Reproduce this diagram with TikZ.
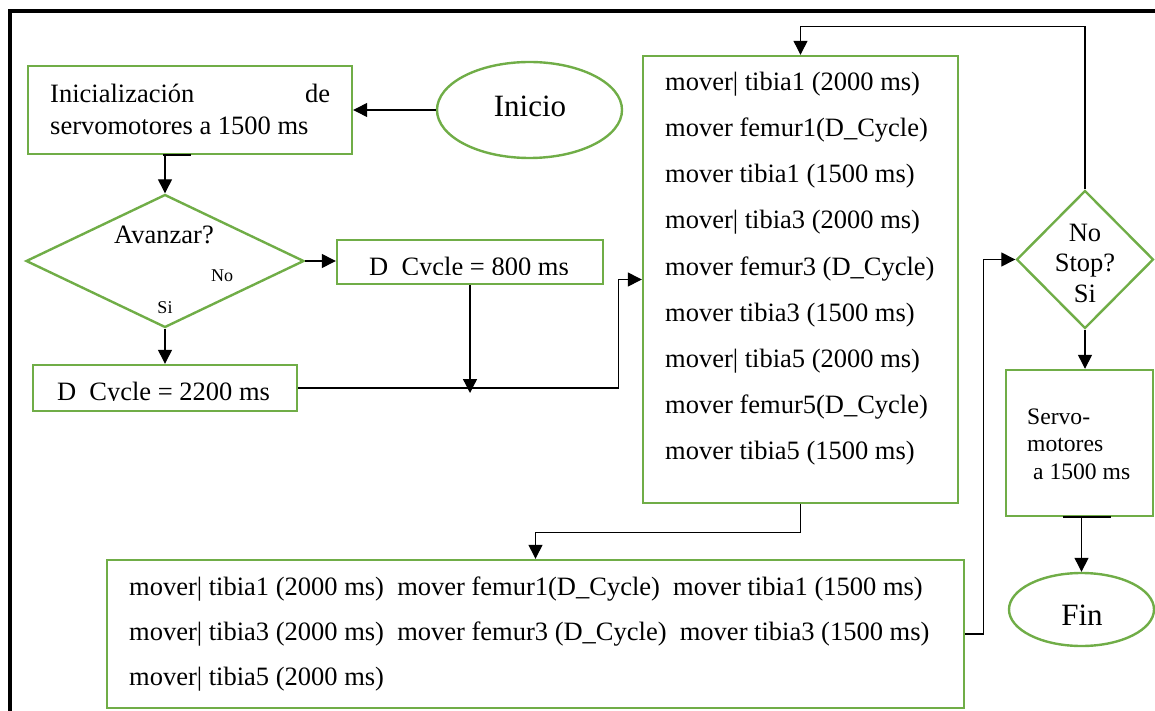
\documentclass[tikz,border=0pt]{standalone}
\usepackage{fontspec}
\setmainfont{Liberation Serif}
\usetikzlibrary{shapes.geometric,arrows.meta}
\definecolor{boxgreen}{RGB}{112,173,71}

\begin{document}
\begin{tikzpicture}[x=1pt,y=-1pt,
  gbox/.style={draw=boxgreen, line width=2.4pt, rectangle, inner sep=0pt},
  gell/.style={draw=boxgreen, line width=2.4pt, ellipse, inner sep=0pt},
  gdia/.style={draw=boxgreen, line width=2.4pt, diamond, inner sep=0pt},
  conn/.style={draw=black, line width=1.3pt},
  arr/.style={conn, -{Triangle[length=14pt,width=14pt]}},
  tailmark/.style={draw=black, line width=2.2pt},
  txt/.style={inner sep=0pt, font=\fontsize{26.5pt}{32pt}\selectfont},
  bigtxt/.style={inner sep=0pt, font=\fontsize{31pt}{36pt}\selectfont},
  smalltxt/.style={inner sep=0pt, font=\fontsize{18pt}{22pt}\selectfont},
  servotxt/.style={inner sep=0pt, font=\fontsize{23.6pt}{28pt}\selectfont},
]
\useasboundingbox (0,0) rectangle (1155,711);

% outer frame (top and left edges)
\draw[line width=4.5pt] (10,715) -- (10,11) -- (1160,11);

% ---- shapes ----
\node[gbox, minimum width=324pt, minimum height=88pt] (init) at (190,110) {};
\node[txt, anchor=base west] (initA) at (50,103) {\makebox[280pt][l]{Inicialización\hfill de}};
\node[txt, anchor=base west] (initB) at (50,135) {servomotores a 1500 ms};

\node[gell, minimum width=185pt, minimum height=96pt] (inicio) at (529.5,110) {};
\node[bigtxt, anchor=base] (inicioT) at (530,117) {Inicio};

\node[gdia, minimum width=278pt, minimum height=133pt] (dec1) at (165,261) {};
\node[txt] (dec1T) at (164,235) {Avanzar?};
\node[smalltxt] (dec1No) at (222,276) {No};
\node[smalltxt] (dec1Si) at (165,308) {Si};

\node[gbox, minimum width=266pt, minimum height=44pt] (d800) at (470,262) {};
\begin{scope}
  \clip (337,240) rectangle (603,274);
  \node[txt, anchor=base] (d800T) at (469,275) {D\ \ Cycle = 800 ms};
\end{scope}

\node[gbox, minimum width=264pt, minimum height=46pt] (d2200) at (165,388) {};
\begin{scope}
  \clip (33,365) rectangle (297,400.5);
  \node[txt, anchor=base] (d2200T) at (163.5,400) {D\ \ Cycle = 2200 ms};
\end{scope}

\node[gbox, minimum width=315pt, minimum height=447pt] (seq) at (800.5,279.5) {};
\foreach \t [count=\i] in {
  {mover\textbar{} tibia1 (2000 ms)},
  {mover femur1(D\_Cycle)},
  {mover tibia1 (1500 ms)},
  {mover\textbar{} tibia3 (2000 ms)},
  {mover femur3 (D\_Cycle)},
  {mover tibia3 (1500 ms)},
  {mover\textbar{} tibia5 (2000 ms)},
  {mover femur5(D\_Cycle)},
  {mover tibia5 (1500 ms)}}
  \node[txt, anchor=base west] (seq\i) at (665,45+46*\i) {\t};

\node[gbox, minimum width=857pt, minimum height=148pt] (bot) at (535.5,634) {};
\node[txt, anchor=base west] (botA) at (129,595)
  {mover\textbar{} tibia1 (2000 ms)~ mover femur1(D\_Cycle)~ mover tibia1 (1500 ms)};
\node[txt, anchor=base west] (botB) at (129,640)
  {mover\textbar{} tibia3 (2000 ms)~ mover femur3 (D\_Cycle)~ mover tibia3 (1500 ms)};
\node[txt, anchor=base west] (botC) at (129,685)
  {mover\textbar{} tibia5 (2000 ms)};

\node[gdia, minimum width=137pt, minimum height=138pt] (dec2) at (1085,259.5) {};
\node[txt, anchor=base] (dec2No) at (1085,241) {No};
\node[txt, anchor=base] (dec2Q) at (1085,271.5) {Stop?};
\node[txt, anchor=base] (dec2Si) at (1085,302) {Si};

\node[gbox, minimum width=147pt, minimum height=146pt] (servo) at (1079.5,443) {};
\node[servotxt, anchor=base west] (servoA) at (1027,424) {Servo-};
\node[servotxt, anchor=base west] (servoB) at (1027,451) {motores};
\node[servotxt, anchor=base west] (servoC) at (1033,479) {a 1500 ms};

\node[gell, minimum width=145pt, minimum height=73pt] (fin) at (1081.5,609.5) {};
\node[bigtxt, anchor=base] (finT) at (1082,625) {Fin};

% ---- connectors ----
\draw[arr] (inicio.west) -- (init.east);
\draw[tailmark] ([xshift=-27pt]init.south) -- ([xshift=1pt]init.south);
\draw[arr] ([xshift=-25pt]init.south) -- (dec1.north);
\draw[arr] (dec1.east) -- (dec1.east -| d800.west);
\draw[arr] (dec1.south) -- (d2200.north);

\coordinate (drop) at (470,393);
\draw[arr] (d800.south) -- (drop);
\draw[arr] (d2200.east) -| ([xshift=-23.5pt]seq.west) -- (seq.west);

\draw[arr] (seq.south) -- ++(0,28.5) -| (bot.north);
\draw[arr] (bot.east) -- ++(18,0) |- (dec2.west);
\draw[arr] (dec2.north) -- ++(0,-162.5) -| (seq.north);
\draw[arr] (dec2.south) -- (dec2.south |- servo.north);

\draw[tailmark] ([xshift=-16.5pt]servo.south) -- ([xshift=31.5pt]servo.south);
\draw[arr] (servo.south -| fin.north) -- (fin.north);
\end{tikzpicture}
\end{document}
